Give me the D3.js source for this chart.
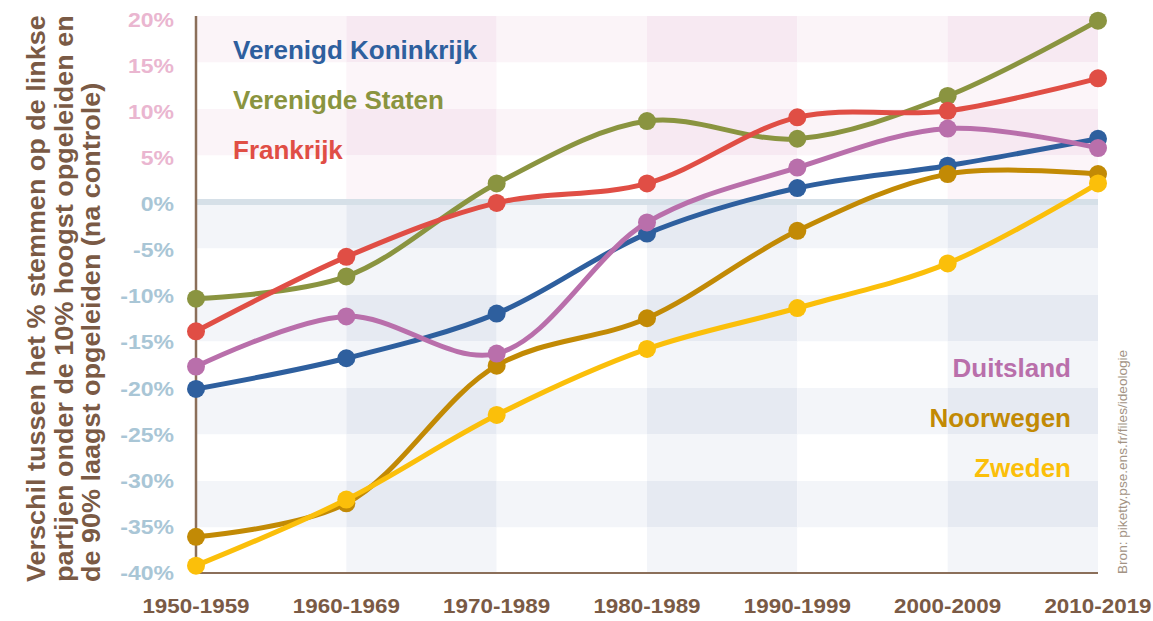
<!DOCTYPE html>
<html><head><meta charset="utf-8">
<script src="https://cdn.jsdelivr.net/npm/d3@7"></script>
<style>body{margin:0;background:#fff}svg{display:block}text{font-family:"Liberation Sans",Arial,sans-serif}</style>
</head><body><svg id="c" width="1153" height="621"></svg>
<script>
const categories = ["1950-1959","1960-1969","1970-1989","1980-1989","1990-1999","2000-2009","2010-2019"];
const yTicks = [20,15,10,5,0,-5,-10,-15,-20,-25,-30,-35,-40];
const seriesNames = ["Verenigd Koninkrijk","Verenigde Staten","Frankrijk","Noorwegen","Zweden","Duitsland"];
const vk = [-20.1,-16.8,-12.0,-3.4,1.5,3.9,6.8];
const vs = [-10.4,-8.0,2.0,8.7,6.8,11.4,19.5];
const fr = [-13.9,-5.9,-0.1,2.0,9.1,9.8,13.3];
const noo = [-36.0,-32.4,-17.6,-12.5,-3.1,3.0,3.0];
const zwe = [-39.1,-32.0,-22.9,-15.8,-11.4,-6.6,2.0];
const dui = [-17.7,-12.3,-16.3,-2.2,3.7,7.9,5.8];

const colors = {"Verenigd Koninkrijk":"#2e5f9e","Verenigde Staten":"#8a9440","Frankrijk":"#e04e45","Noorwegen":"#c28a05","Zweden":"#fbbf0a","Duitsland":"#b96fab"};
const values = {"Verenigd Koninkrijk":vk,"Verenigde Staten":vs,"Frankrijk":fr,"Noorwegen":noo,"Zweden":zwe,"Duitsland":dui};

const svg = d3.select("#c");
const x = d3.scalePoint().domain(categories).range([196,1098]);
const y = d3.scaleLinear().domain([-40,20]).range([574,16]);
const step = x.step();

// background cells
const g = svg.append("g");
const rows = d3.range(20,-40,-5);
rows.forEach((top,ri)=>{
  const tinted = ri%2===0;
  const pos = top>0;
  categories.slice(0,-1).forEach((c,ci)=>{
    const dark = ci%2===1;
    let fill;
    if(pos){ fill = tinted ? (dark?"#f7e9f2":"#fbf4f8") : (dark?"#fcf5f9":"#ffffff"); }
    else { fill = tinted ? (dark?"#e6eaf2":"#f3f5f9") : (dark?"#f3f5f9":"#ffffff"); }
    g.append("rect").attr("x",x(c)).attr("y",y(top)).attr("width",step).attr("height",y(top-5)-y(top)).attr("fill",fill);
  });
});
// zero band
svg.append("line").attr("x1",196).attr("x2",1098).attr("y1",y(0)).attr("y2",y(0)).attr("stroke","#d6e0e8").attr("stroke-width",6);

// axes
svg.append("line").attr("x1",196).attr("x2",196).attr("y1",16).attr("y2",y(-40)).attr("stroke","#8b6f5a").attr("stroke-width",2.5);
svg.append("line").attr("x1",196).attr("x2",1098).attr("y1",y(-40)-1).attr("y2",y(-40)-1).attr("stroke","#8b6f5a").attr("stroke-width",2);

// y tick labels
svg.append("g").selectAll("text").data(yTicks).join("text")
  .attr("transform",d=>`translate(174,${y(d)+6+(d+40)/60*4.7}) scale(1.18,1)`)
  .attr("text-anchor","end")
  .attr("font-size",19.5).attr("font-weight","bold")
  .attr("fill",d=>d>0?"#eab6d0":"#a9c6d6")
  .text(d=>d+"%");

// x labels
svg.append("g").selectAll("text").data(categories).join("text")
  .attr("transform",d=>`translate(${x(d)},613) scale(1.15,1)`)
  .attr("text-anchor","middle")
  .attr("font-size",19.5).attr("font-weight","bold").attr("fill","#7a5a45")
  .text(d=>d);

// y title
const titleLines = ["Verschil tussen het % stemmen op de linkse","partijen onder de 10% hoogst opgeleiden en","de 90% laagst opgeleiden (na controle)"];
svg.append("g").selectAll("text").data(titleLines).join("text")
  .attr("transform",(d,i)=>`translate(${45+i*27.5},582) rotate(-90) scale(1.08,1)`)
  .attr("font-size",25).attr("font-weight","bold").attr("fill","#7a5a45")
  .text(d=>d);

// lines
const line = d3.line().x((d,i)=>x(categories[i])).y(d=>y(d)).curve(d3.curveCatmullRom.alpha(0.5));
seriesNames.forEach(n=>{
  const sg = svg.append("g");
  sg.append("path").datum(values[n]).attr("d",line).attr("fill","none").attr("stroke",colors[n]).attr("stroke-width",5);
  sg.selectAll("circle").data(values[n]).join("circle")
    .attr("cx",(d,i)=>x(categories[i])).attr("cy",d=>y(d)).attr("r",9).attr("fill",colors[n]);
});

// legend labels
const legL = [["Verenigd Koninkrijk",59],["Verenigde Staten",109],["Frankrijk",159]];
legL.forEach(([n,yy])=>svg.append("text").attr("x",233).attr("y",yy).attr("font-size",26).attr("font-weight","bold").attr("fill",colors[n]).text(n));
const legR = [["Duitsland",377],["Noorwegen",427],["Zweden",477]];
legR.forEach(([n,yy])=>svg.append("text").attr("x",1071).attr("y",yy).attr("text-anchor","end").attr("font-size",26).attr("font-weight","bold").attr("fill",colors[n]).text(n));

// source
svg.append("text").attr("transform","translate(1127,574) rotate(-90)").attr("font-size",13.6).attr("fill","#a39384").text("Bron: piketty.pse.ens.fr/files/ideologie");
</script></body></html>
